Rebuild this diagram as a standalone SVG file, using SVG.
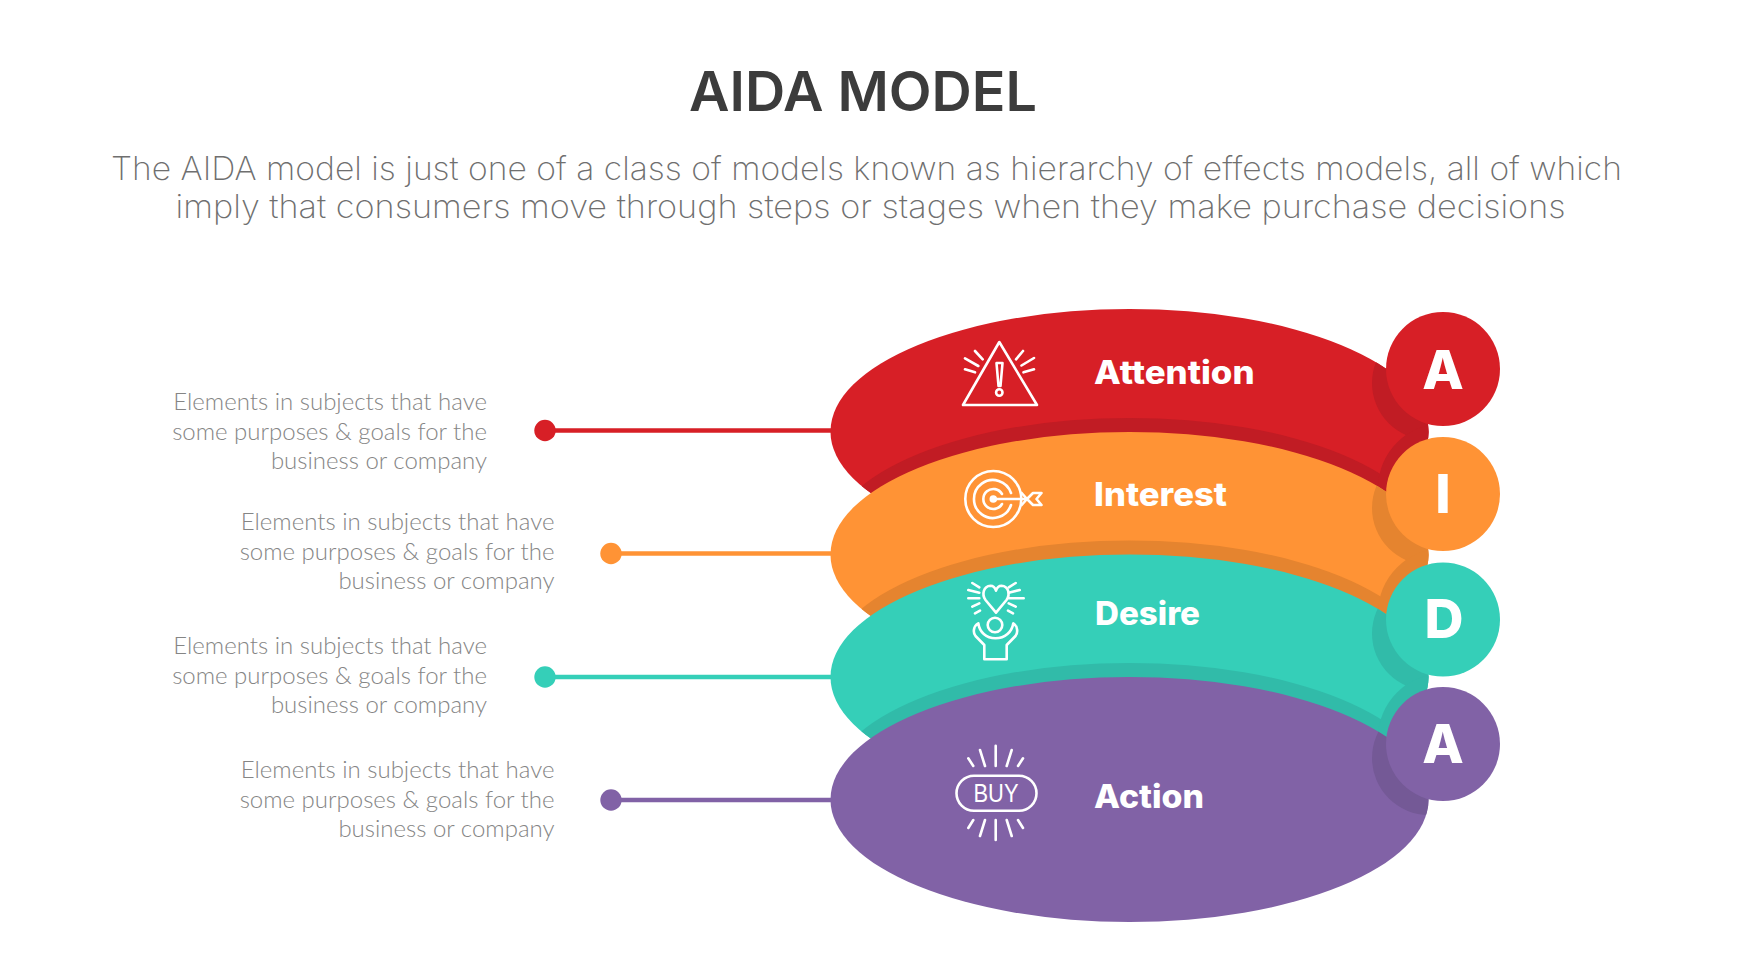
<svg xmlns="http://www.w3.org/2000/svg" width="1742" height="980" viewBox="0 0 1742 980">
<style>
text{font-family:"Inter","Liberation Sans",sans-serif}
.title{font-size:55px;font-weight:600;fill:#3c3c3c;text-anchor:middle}
.sub{font-size:33px;font-weight:200;fill:#6f6f6f;text-anchor:middle}
.note{font-family:"Lato","Liberation Sans",sans-serif;font-size:24px;font-weight:300;fill:#858585;text-anchor:end}
.lab{font-size:32px;font-weight:800;fill:#fff}
.let{font-size:54px;font-weight:800;fill:#fff;text-anchor:middle}
.ic{fill:none;stroke:#fff;stroke-width:2.6;stroke-linecap:round;stroke-linejoin:round}
.ln{stroke-width:4.500}
</style>
<defs>
<clipPath id="c1"><ellipse cx="1129.5" cy="431.5" rx="299" ry="122.5"/></clipPath>
<clipPath id="c2"><ellipse cx="1129.5" cy="554.5" rx="299" ry="122.5"/></clipPath>
<clipPath id="c3"><ellipse cx="1129.5" cy="677" rx="299" ry="122.5"/></clipPath>
<clipPath id="c4"><ellipse cx="1129.5" cy="799.5" rx="299" ry="122.5"/></clipPath>
</defs>
<rect width="1742" height="980" fill="#fff"/>
<text class="title" x="863" y="111" textLength="348" lengthAdjust="spacingAndGlyphs">AIDA MODEL</text>
<text class="sub" x="866.500" y="180" textLength="1511" lengthAdjust="spacingAndGlyphs">The AIDA model is just one of a class of models known as hierarchy of effects models, all of which</text>
<text class="sub" x="870.500" y="218" textLength="1390" lengthAdjust="spacingAndGlyphs">imply that consumers move through steps or stages when they make purchase decisions</text>

<g id="connectors">
<g stroke="#d71f26" fill="#d71f26"><line class="ln" x1="545" y1="430.500" x2="835" y2="430.500"/><circle cx="545" cy="430.500" r="10.700" stroke="none"/></g>
<g stroke="#ff9335" fill="#ff9335"><line class="ln" x1="611" y1="553.500" x2="835" y2="553.500"/><circle cx="611" cy="553.500" r="10.700" stroke="none"/></g>
<g stroke="#35cfb8" fill="#35cfb8"><line class="ln" x1="545" y1="677" x2="835" y2="677"/><circle cx="545" cy="677" r="10.700" stroke="none"/></g>
<g stroke="#8162a6" fill="#8162a6"><line class="ln" x1="611" y1="800" x2="835" y2="800"/><circle cx="611" cy="800" r="10.700" stroke="none"/></g>
</g>

<g id="note-attention"><text class="note" x="487" y="410">Elements in subjects that have</text><text class="note" x="487" y="439.500">some purposes &amp; goals for the</text><text class="note" x="487" y="469">business or company</text></g>
<g id="note-interest"><text class="note" x="554.500" y="530">Elements in subjects that have</text><text class="note" x="554.500" y="559.500">some purposes &amp; goals for the</text><text class="note" x="554.500" y="589">business or company</text></g>
<g id="note-desire"><text class="note" x="487" y="654">Elements in subjects that have</text><text class="note" x="487" y="683.500">some purposes &amp; goals for the</text><text class="note" x="487" y="713">business or company</text></g>
<g id="note-action"><text class="note" x="554.500" y="778">Elements in subjects that have</text><text class="note" x="554.500" y="807.500">some purposes &amp; goals for the</text><text class="note" x="554.500" y="837">business or company</text></g>

<g id="band-attention">
<ellipse cx="1129.500" cy="431.500" rx="299" ry="122.500" fill="#d71f26"/>
<g clip-path="url(#c1)" fill="#c11c24"><ellipse cx="1129.500" cy="540.500" rx="299" ry="122.500"/><circle cx="1429" cy="383" r="57"/><circle cx="1442" cy="488" r="64"/></g>
</g>
<g id="band-interest">
<ellipse cx="1129.500" cy="554.500" rx="299" ry="122.500" fill="#ff9335"/>
<g clip-path="url(#c2)" fill="#e5842f"><ellipse cx="1129.500" cy="663" rx="299" ry="122.500"/><circle cx="1429" cy="508" r="57"/><circle cx="1442" cy="613" r="64"/></g>
</g>
<g id="band-desire">
<ellipse cx="1129.500" cy="677" rx="299" ry="122.500" fill="#35cfb8"/>
<g clip-path="url(#c3)" fill="#31bba9"><ellipse cx="1129.500" cy="785.500" rx="299" ry="122.500"/><circle cx="1429" cy="633.500" r="57"/><circle cx="1442" cy="738" r="64"/></g>
</g>
<g id="band-action">
<ellipse cx="1129.500" cy="799.500" rx="299" ry="122.500" fill="#8162a6"/>
<g clip-path="url(#c4)" fill="#745996"><circle cx="1429" cy="758" r="57"/></g>
</g>

<g id="icon-attention" class="ic">
<path d="M999.300 342 L963 405 H1037 Z"/>
<path d="M996.500 363 H1002.500 L1000.500 386 H998.500 Z"/><circle cx="999.300" cy="392.500" r="3.200"/>
<path d="M975 351 L982.700 359.300 M965 358.300 L978.300 366 M965 369.300 L975 372.300 M1023 351 L1016 359.300 M1034 358 L1021.500 365.500 M1034 369.300 L1023.500 372.300"/>
</g>
<g id="icon-interest" class="ic">
<circle cx="993.300" cy="499" r="28"/>
<path d="M1011 493 A19 19 0 1 0 1011 505"/>
<path d="M1002 494 A10 10 0 1 0 1002 504"/>
<circle cx="993.300" cy="499" r="2.500" fill="#fff"/>
<path d="M993.300 499 H1027 M1021.700 493 L1027 499 L1021.700 505 M1033 493 H1041.500 L1036.500 499 L1041.500 505 H1033 L1027 499 Z"/>
</g>
<g id="icon-desire" class="ic">
<path d="M996 612.700 L985.500 600 C981.500 594.500 983.500 586 990.500 585.700 C993 585.700 995 587.500 996 590.700 C997 587.500 999 585.700 1001.500 585.700 C1008.500 586 1010.500 594.500 1006.500 600 Z"/>
<path d="M972.300 583 L979.300 587.300 M968.300 590 L979.300 592.700 M968.300 598.300 H979.300 M972.300 606.700 L979.300 603.300 M975 613.300 L980 610.700 M1015.700 583 L1008.700 587.300 M1019.700 590 L1008.700 592.700 M1023.700 598.300 H1008.700 M1015.700 606.700 L1008.700 603.300 M1013 613.300 L1008 610.700"/>
<circle cx="995" cy="625" r="7.300"/>
<path d="M978.300 623.300 C973 626 973 633 975.500 636 L984.300 645 V659.300 H1006.700 V645 L1015.500 636 C1018 633 1018 626 1013.300 623.300 C1012 632 1005 638.300 995.500 638.300 C986 638.300 979.500 632 978.300 623.300 Z"/>
</g>
<g id="icon-action" class="ic">
<rect x="956.500" y="775.700" width="80" height="35" rx="17.500"/>
<text x="996" y="801.700" font-size="25" font-weight="400" text-anchor="middle" textLength="45" lengthAdjust="spacingAndGlyphs" fill="#fff" stroke="none" style="font-family:'Liberation Sans',sans-serif">BUY</text>
<path d="M995.700 745.700 V766 M980 750 L985 766 M968.300 758.300 L973.300 766 M1011.700 750 L1006.700 766 M1023 758.300 L1018 766 M995.700 820 V840 M985 820 L980 836 M973.300 820 L968.300 828 M1006.700 820 L1011.700 836 M1018 820 L1023 828"/>
</g>

<g id="label-attention"><text class="lab" x="1094" y="384" textLength="160.500" lengthAdjust="spacingAndGlyphs">Attention</text></g>
<g id="label-interest"><text class="lab" x="1094" y="505.500" textLength="133" lengthAdjust="spacingAndGlyphs">Interest</text></g>
<g id="label-desire"><text class="lab" x="1095" y="625" textLength="105" lengthAdjust="spacingAndGlyphs">Desire</text></g>
<g id="label-action"><text class="lab" x="1094" y="807.500" textLength="110" lengthAdjust="spacingAndGlyphs">Action</text></g>

<g id="badge-a1"><circle cx="1443" cy="369" r="57" fill="#d71f26"/><text class="let" x="1443" y="389">A</text></g>
<g id="badge-i"><circle cx="1443" cy="494" r="57" fill="#ff9335"/><text class="let" x="1443" y="513">I</text></g>
<g id="badge-d"><circle cx="1443" cy="619.500" r="57" fill="#35cfb8"/><text class="let" x="1444" y="638">D</text></g>
<g id="badge-a2"><circle cx="1443" cy="744" r="57" fill="#8162a6"/><text class="let" x="1443" y="763">A</text></g>
</svg>
